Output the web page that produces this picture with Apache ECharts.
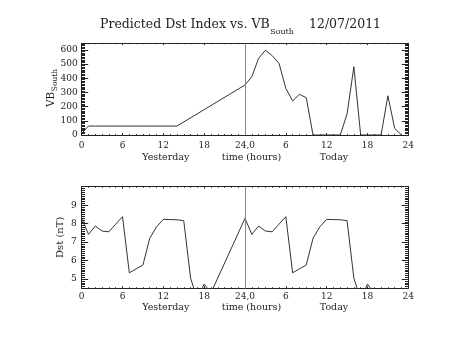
<!DOCTYPE html>
<html><head><meta charset="utf-8">
<script src="https://cdn.jsdelivr.net/npm/echarts@6/dist/echarts.min.js"></script>
<style>html,body{margin:0;padding:0;background:#fff}#c{width:453px;height:340px}</style>
</head><body><div id="c"></div>
<script>
// ---- data ----
const xTickValues = [0, 6, 12, 18, 24, 30, 36, 42, 48];
const xTickLabels = ['0', '6', '12', '18', '24,0', '6', '12', '18', '24'];
const vbTickValues = [0, 100, 200, 300, 400, 500, 600];
const dstTickValues = [5, 6, 7, 8, 9];
const dayLabels = ['Yesterday', 'time (hours)', 'Today'];
const titleMain = 'Predicted Dst Index vs. VB';
const titleSub = 'South';
const titleDate = '12/07/2011';

const vbHours  = [0, 1, 2, 3, 4, 5, 6, 7, 8, 9, 10, 11, 12, 13, 14,
                  24, 25, 26, 27, 28, 29, 30, 31, 32, 33, 34, 35, 36, 37, 38, 39, 40, 41, 42, 43, 44, 45, 46, 47];
const vbValues = [10, 63, 63, 63, 63, 63, 63, 63, 63, 63, 63, 63, 63, 63, 63,
                  353, 411, 541, 598, 560, 506, 329, 240, 287, 263, 0, 0, 0, 0, 0, 148, 482, 0, 0, 0, 0, 277, 47, 0];

const dstHoursYesterday  = [0, 1, 2, 3, 4, 5, 6, 7, 8, 9, 10, 11, 12, 13, 14, 15, 16, 17, 18, 19];
const dstValuesYesterday = [8.29, 7.42, 7.87, 7.60, 7.56, 7.97, 8.38, 5.34, 5.55, 5.76, 7.21, 7.83, 8.23, 8.22, 8.21, 8.16, 5.05, 3.9, 4.73, 4.25];
const dstHoursToday  = [24, 25, 26, 27, 28, 29, 30, 31, 32, 33, 34, 35, 36, 37, 38, 39, 40, 41, 42, 43];
const dstValuesToday = [8.29, 7.42, 7.87, 7.60, 7.56, 7.97, 8.38, 5.34, 5.55, 5.76, 7.21, 7.83, 8.23, 8.22, 8.21, 8.16, 5.05, 3.9, 4.73, 4.25];

// ---- layout / style ----
const FONT = 'DejaVu Serif';
const AX = '#222';
const LINE = '#333';
const X_MIN = 0, X_MAX = 48;
const VB_MIN = 0, VB_MAX = 647;
const DST_MIN = 4.5, DST_MAX = 10;

const xMinor = []; for (let h = X_MIN; h <= X_MAX; h++) xMinor.push(h);
const vbMinor = []; for (let v = VB_MIN; v <= 640; v += 10) vbMinor.push(v);
const dstMinor = []; for (let k = 45; k <= 100; k++) dstMinor.push(k / 10);

const vbPts = vbHours.map((h, i) => [h, vbValues[i]]);
const dstPts = dstHoursYesterday.map((h, i) => [h, dstValuesYesterday[i]])
  .concat(dstHoursToday.map((h, i) => [h, dstValuesToday[i]]));

function mkAxis(grid, pos, min, max, tickVals, tickLen, showLine, labelCfg) {
  return {
    type: 'value', gridIndex: grid, position: pos, min: min, max: max,
    axisLine: { show: showLine, onZero: false, lineStyle: { color: AX, width: 1 } },
    axisTick: { show: true, inside: true, length: tickLen, customValues: tickVals, lineStyle: { color: AX, width: 1 } },
    axisLabel: labelCfg || { show: false },
    splitLine: { show: false }, minorTick: { show: false }, minorSplitLine: { show: false }
  };
}
function xLabel(margin) {
  return { show: true, customValues: xTickValues, margin: margin, verticalAlign: 'middle',
    fontFamily: FONT, fontSize: 9, color: AX,
    formatter: v => xTickLabels[xTickValues.indexOf(v)] };
}
function yLabel(vals, margin) {
  return { show: true, customValues: vals, margin: margin, verticalAlign: 'middle',
    fontFamily: FONT, fontSize: 9, color: AX, padding: [0, 0, 5, 0],
    formatter: v => String(v) };
}

const xAxes = [];
const yAxes = [];
[[0, 1.8, 0.9, 11], [1, 2.0, 1.0, 8]].forEach(([g, maj, mnr, lm]) => {
  xAxes.push(mkAxis(g, 'bottom', X_MIN, X_MAX, xTickValues, maj, true, xLabel(lm)));
  xAxes.push(mkAxis(g, 'bottom', X_MIN, X_MAX, xMinor, mnr, false));
  xAxes.push(mkAxis(g, 'top', X_MIN, X_MAX, xTickValues, maj, true));
  xAxes.push(mkAxis(g, 'top', X_MIN, X_MAX, xMinor, mnr, false));
});
yAxes.push(mkAxis(0, 'left', VB_MIN, VB_MAX, vbTickValues, 6.5, true, yLabel(vbTickValues, 4)));
yAxes.push(mkAxis(0, 'left', VB_MIN, VB_MAX, vbMinor, 3.3, false));
yAxes.push(mkAxis(0, 'right', VB_MIN, VB_MAX, vbTickValues, 6.5, true));
yAxes.push(mkAxis(0, 'right', VB_MIN, VB_MAX, vbMinor, 3.3, false));
yAxes.push(mkAxis(1, 'left', DST_MIN, DST_MAX, dstTickValues, 6.5, true, yLabel(dstTickValues, 5)));
yAxes.push(mkAxis(1, 'left', DST_MIN, DST_MAX, dstMinor, 3.3, false));
yAxes.push(mkAxis(1, 'right', DST_MIN, DST_MAX, dstTickValues, 6.5, true));
yAxes.push(mkAxis(1, 'right', DST_MIN, DST_MAX, dstMinor, 3.3, false));

const divider = {
  silent: true, symbol: ['none', 'none'], label: { show: false },
  lineStyle: { color: '#888', type: 'solid', width: 1 },
  data: [{ xAxis: 24 }]
};

// text measuring for subscripts
const cv = document.createElement('canvas').getContext('2d');
function tw(s, size) { cv.font = size + 'px "' + FONT + '"'; return cv.measureText(s).width; }

const tMainSize = 12.5, tSubSize = 8;
const wMain = tw(titleMain, tMainSize);
const nameSize = 10.5, nameSubSize = 7.5;
const wVB = tw('VB', nameSize);

function txt(x, y, s, size, align) {
  return { type: 'text', x: x, y: y, style: { text: s, fontFamily: FONT, fontSize: size, fill: AX,
    align: align || 'left', verticalAlign: 'middle' } };
}

const graphics = [
  txt(100, 24.5, titleMain, tMainSize),
  txt(100 + wMain + 0.5, 31.5, titleSub, tSubSize),
  txt(309, 24.5, titleDate, tMainSize),
  txt(165.8, 157.5, dayLabels[0], 9.5, 'center'),
  txt(251.5, 157.5, dayLabels[1], 9.5, 'center'),
  txt(334, 157.5, dayLabels[2], 9.5, 'center'),
  txt(165.8, 307.5, dayLabels[0], 9.5, 'center'),
  txt(251.5, 307.5, dayLabels[1], 9.5, 'center'),
  txt(334, 307.5, dayLabels[2], 9.5, 'center'),
  { type: 'group', x: 51, y: 107, rotation: Math.PI / 2, children: [
    txt(0, 0, 'VB', nameSize),
    txt(wVB + 0.5, 4.5, 'South', nameSubSize)
  ]},
  { type: 'group', x: 60.5, y: 237.3, rotation: Math.PI / 2, children: [
    txt(0, 0, 'Dst (nT)', 10, 'center')
  ]}
];

const chart = echarts.init(document.getElementById('c'), null, { renderer: 'canvas' });
chart.setOption({
  backgroundColor: '#fff',
  animation: false,
  grid: [
    { left: 81.7, top: 43.3, width: 326.6, height: 91.7 },
    { left: 81.7, top: 186.7, width: 326.6, height: 101.6 }
  ],
  xAxis: xAxes,
  yAxis: yAxes,
  graphic: graphics,
  series: [
    { type: 'line', xAxisIndex: 0, yAxisIndex: 0, data: vbPts, showSymbol: false, clip: true,
      lineStyle: { color: LINE, width: 1 }, markLine: divider },
    { type: 'line', xAxisIndex: 4, yAxisIndex: 4, data: dstPts, showSymbol: false, clip: true,
      lineStyle: { color: LINE, width: 1 }, markLine: divider }
  ]
});
</script>
</body></html>
